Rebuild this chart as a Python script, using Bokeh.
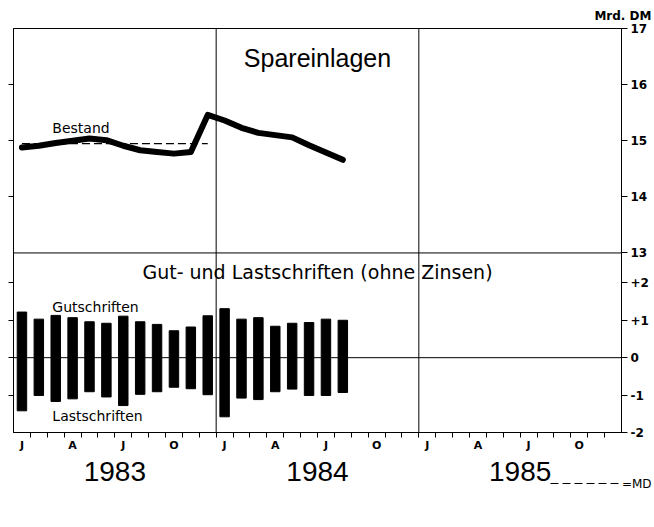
import numpy as np
from bokeh.plotting import figure
from bokeh.models import (Range1d, LinearAxis, FixedTicker, Span, Label)
from bokeh.embed import file_html
from bokeh.resources import INLINE

# ---------------- data ----------------
years = ["1983", "1984", "1985"]
month_letters = ["J", "A", "J", "O"]          # Jan, Apr, Jul, Oct
# Spareinlagen, Bestand (Mrd. DM), monthly Jan 1983 .. Aug 1984
bestand = [14.88, 14.91, 14.96, 15.00, 15.04, 15.01, 14.91, 14.83, 14.80, 14.77, 14.80, 15.46,
           15.36, 15.23, 15.14, 15.10, 15.06, 14.92, 14.79, 14.66]
md_1983 = 14.95
# Gut- und Lastschriften (ohne Zinsen), Mrd. DM
gutschriften = [1.22, 1.03, 1.13, 1.07, 0.96, 0.92, 1.11, 0.96, 0.89, 0.72, 0.82, 1.12,
                1.31, 1.03, 1.07, 0.84, 0.92, 0.94, 1.03, 1.00]
lastschriften = [1.42, 1.01, 1.17, 1.10, 0.91, 1.05, 1.28, 0.98, 0.91, 0.79, 0.83, 0.99,
                 1.58, 1.08, 1.12, 0.91, 0.84, 1.01, 1.01, 0.93]
bestand_ticks = [13, 14, 15, 16, 17]
bestand_tick_labels = ["13", "14", "15", "16", "17"]
flow_ticks = [-2, -1, 0, 1, 2]
flow_tick_labels = ["-2", "-1", "0", "+1", "+2"]

# ---------------- geometry of the two panels ----------------
BAR_LO, DIV, BAR_HI = -2.0, 2.8, 8.8
scale = (BAR_HI - DIV) / (bestand_ticks[-1] - bestand_ticks[0])
LINE_LO = bestand_ticks[0] - (DIV - BAR_LO) / scale
LINE_HI = bestand_ticks[-1]
n_months = 12 * len(years)

def line_to_bar_units(v):
    return round(DIV + (v - bestand_ticks[0]) * scale, 6)

FONT = "DejaVu Sans"

p = figure(width=654, height=505, x_range=Range1d(0, n_months),
           y_range=Range1d(BAR_LO, BAR_HI),
           output_backend="svg", toolbar_location=None,
           x_axis_location=None, y_axis_location=None,
           min_border_left=13, min_border_right=33, min_border_top=28, min_border_bottom=73)
p.extra_y_ranges = {"bestand": Range1d(LINE_LO, LINE_HI)}
p.grid.grid_line_color = None
p.outline_line_color = "black"
p.outline_line_width = 1
p.background_fill_color = "white"
p.border_fill_color = "white"

# unit label top right
p.title.text = "Mrd. DM"
p.title.align = "right"
p.title.offset = -30
p.title.standoff = 12
p.title.text_font = FONT
p.title.text_font_style = "bold"
p.title.text_font_size = "12px"
p.title.text_color = "black"

x = np.arange(len(bestand)) + 0.5

# bars
p.vbar(x=x, width=0.56, top=gutschriften, bottom=[-v for v in lastschriften],
       fill_color="black", line_color="black")

# separators
for k in range(1, len(years)):
    p.add_layout(Span(location=12 * k, dimension="height", line_color="black", line_width=1))
p.add_layout(Span(location=DIV, dimension="width", line_color="black", line_width=1))
p.add_layout(Span(location=0, dimension="width", line_color="black", line_width=1))

# MD line (1983 average)
MD_DASH = "8 4"
p.line([x[0], x[11]], [md_1983, md_1983], y_range_name="bestand",
       line_color="black", line_width=1.2, line_dash=MD_DASH)

# Bestand line
p.line(x, bestand, y_range_name="bestand", line_color="black", line_width=6,
       line_join="round", line_cap="round")

# ---------------- axes ----------------
line_pos = [line_to_bar_units(t) for t in bestand_ticks]
right_ticks = [float(t) for t in flow_ticks] + line_pos
right_labels = dict(zip(right_ticks, flow_tick_labels + bestand_tick_labels))
right = LinearAxis(ticker=FixedTicker(ticks=right_ticks), major_label_overrides=right_labels,
                   major_tick_out=6, major_tick_in=0, minor_tick_out=0, minor_tick_in=0,
                   axis_line_color="black", major_tick_line_color="black",
                   major_label_standoff=3, major_label_text_font=FONT,
                   major_label_text_font_style="bold", major_label_text_font_size="12px",
                   major_label_text_color="black")
p.add_layout(right, "right")

left_ticks = [float(t) for t in flow_ticks if BAR_LO < t < DIV] + \
             [line_to_bar_units(t) for t in bestand_ticks[1:-1]]
left = LinearAxis(ticker=FixedTicker(ticks=left_ticks),
                  major_label_overrides={t: "" for t in left_ticks},
                  major_tick_out=5, major_tick_in=0, minor_tick_out=0, minor_tick_in=0,
                  major_label_standoff=0, axis_line_color="black",
                  major_tick_line_color="black", major_label_text_font_size="1px")
p.add_layout(left, "left")

quarter_pos = [12 * yi + 3 * q + 0.5 for yi in range(len(years)) for q in range(len(month_letters))]
quarter_lab = {float(pq): month_letters[i % len(month_letters)] for i, pq in enumerate(quarter_pos)}
months_axis = LinearAxis(ticker=FixedTicker(ticks=[float(v) for v in quarter_pos],
                                            minor_ticks=list(range(1, n_months))),
                         major_label_overrides=quarter_lab,
                         major_tick_out=0, major_tick_in=0, minor_tick_out=5, minor_tick_in=0,
                         minor_tick_line_color="black", axis_line_color="black",
                         major_label_standoff=1, major_label_text_font=FONT,
                         major_label_text_font_style="bold", major_label_text_font_size="11px",
                         major_label_text_color="black")
p.add_layout(months_axis, "below")

year_pos = [12 * yi + 6.0 for yi in range(len(years))]
years_axis = LinearAxis(ticker=FixedTicker(ticks=year_pos),
                        major_label_overrides=dict(zip(year_pos, years)),
                        major_tick_out=0, major_tick_in=0, minor_tick_out=0, minor_tick_in=0,
                        axis_line_color=None, major_label_standoff=7,
                        major_label_text_font="Liberation Sans",
                        major_label_text_font_size="28px", major_label_text_color="black")
p.add_layout(years_axis, "below")

# key for the MD line: a short dashed axis line below the year labels, labelled "=MD"
key_end = float(n_months)
key_axis = LinearAxis(ticker=FixedTicker(ticks=[key_end]), bounds=(31.8, key_end),
                      major_label_overrides={key_end: "\u00a0" * 8 + "=MD"},
                      major_tick_out=0, major_tick_in=0, minor_tick_out=0, minor_tick_in=0,
                      axis_line_color="black", axis_line_width=1.2, axis_line_dash=MD_DASH,
                      major_label_text_font=FONT, major_label_text_font_size="12px",
                      major_label_text_color="black", major_label_standoff=-7)
p.add_layout(key_axis, "below")

# ---------------- texts ----------------
p.add_layout(Label(x=18, y=BAR_HI, y_offset=-29, text="Spareinlagen", text_align="center",
                   text_baseline="middle", text_font="Liberation Sans",
                   text_font_size="25px", text_color="black"))
p.add_layout(Label(x=18, y=DIV, y_offset=-19, text="Gut- und Lastschriften (ohne Zinsen)",
                   text_align="center", text_baseline="middle", text_font=FONT,
                   text_font_size="19px", text_color="black"))
p.add_layout(Label(x=2.3, y=15.23, y_range_name="bestand", text="Bestand", text_align="left",
                   text_baseline="middle", text_font=FONT, text_font_size="14px",
                   text_color="black"))
p.add_layout(Label(x=2.3, y=1.36, text="Gutschriften", text_align="left",
                   text_baseline="middle", text_font=FONT, text_font_size="14px",
                   text_color="black"))
p.add_layout(Label(x=2.3, y=-1.55, text="Lastschriften", text_align="left",
                   text_baseline="middle", text_font=FONT, text_font_size="14px",
                   text_color="black"))

open("out.html", "w").write(file_html(p, INLINE))
